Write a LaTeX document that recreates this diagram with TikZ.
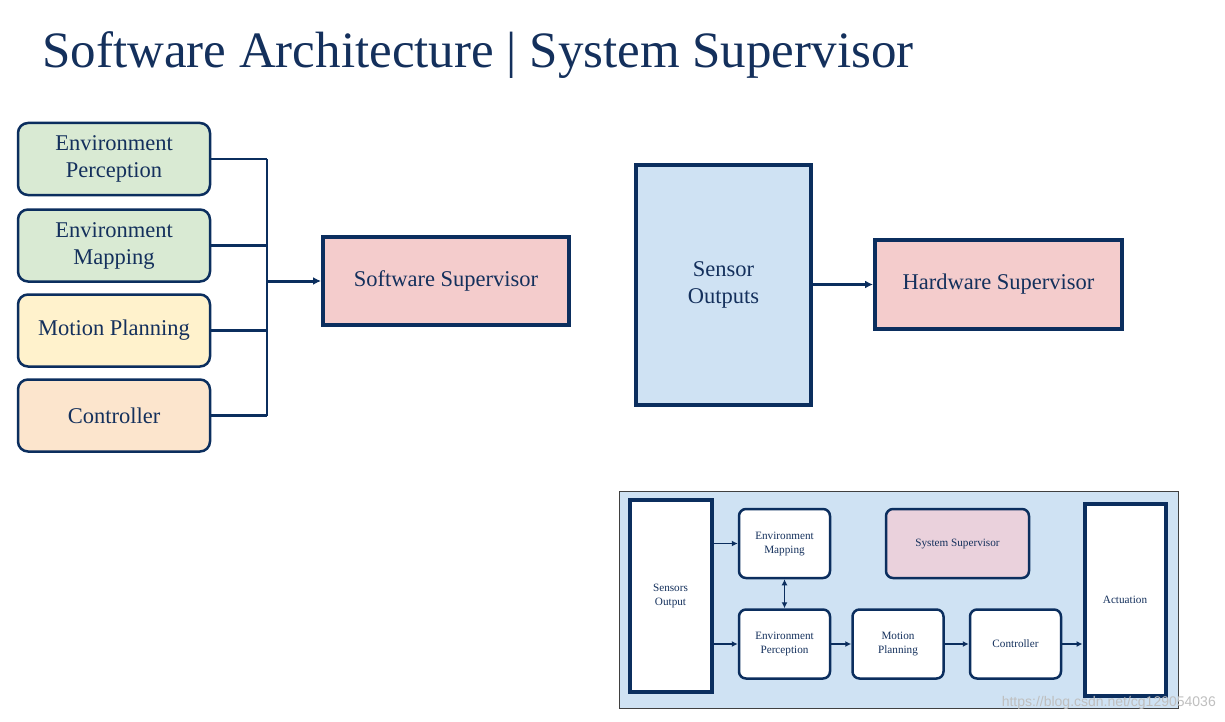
\documentclass[tikz,border=0pt]{standalone}
\usepackage{fontspec}
\setmainfont{Liberation Serif}
\newfontfamily\wmfont{Liberation Sans}
\usetikzlibrary{arrows.meta}
\definecolor{navy}{HTML}{0B2E5E}
\definecolor{tnavy}{HTML}{14305C}
\definecolor{lgreen}{HTML}{D9EAD3}
\definecolor{lyellow}{HTML}{FFF2CC}
\definecolor{lorange}{HTML}{FCE5CD}
\definecolor{lpink}{HTML}{F4CCCC}
\definecolor{lblue}{HTML}{CFE2F3}
\definecolor{lmauve}{HTML}{EAD1DC}
\begin{document}
\begin{tikzpicture}[x=1pt,y=-1pt,
  rbox/.style={draw=navy, line width=2.5pt, rounded corners=10pt, minimum width=192pt, minimum height=72pt, inner sep=0pt, text=tnavy, font=\fontsize{22.5}{27}\selectfont, align=center},
  sbox/.style={draw=navy, line width=4pt, inner sep=0pt, text=tnavy, font=\fontsize{22.5}{27}\selectfont, align=center},
  mbox/.style={draw=navy, line width=2.5pt, rounded corners=7pt, minimum width=91pt, minimum height=69pt, inner sep=0pt, fill=white, text=tnavy, font=\fontsize{11.2}{14}\selectfont, align=center},
  mtall/.style={draw=navy, line width=4pt, inner sep=0pt, fill=white, text=tnavy, font=\fontsize{11.2}{14}\selectfont, align=center},
  bus/.style={draw=navy, line width=2.5pt},
  barrow/.style={draw=navy, line width=3pt, -{Latex[length=8pt,width=8pt]}},
  sarrow/.style={draw=navy, line width=1.3pt, -{Latex[length=6pt,width=6pt]}},
  darrow/.style={draw=navy, line width=1.3pt, {Latex[length=6pt,width=6pt]}-{Latex[length=6pt,width=6pt]}}
]
\useasboundingbox[fill=white] (0,0) rectangle (1225,722);

% title
\node[anchor=base west, inner sep=0pt, text=tnavy, font=\fontsize{51}{60}\selectfont] (title) at (42,68) {Software Architecture | System Supervisor};

% left column
\node[rbox, fill=lgreen] (ep) at (114,159) {Environment\\Perception};
\node[rbox, fill=lgreen] (em) at (114,245.5) {Environment\\Mapping};
\node[rbox, fill=lyellow] (mp) at (114,330.5) {Motion Planning};
\node[rbox, fill=lorange] (ct) at (114,415.5) {Controller};

\node[sbox, fill=lpink, minimum width=246pt, minimum height=88pt] (ss) at (446,281) {Software Supervisor};

\coordinate (bt) at (267,159);
\coordinate (bb) at (267,415.5);
\draw[bus] (ep.east) -- (ep.east -| bt);
\draw[bus] (em.east) -- (em.east -| bt);
\draw[bus] (mp.east) -- (mp.east -| bt);
\draw[bus] (ct.east) -- (ct.east -| bt);
\draw[bus] (bt) -- (bb);
\draw[barrow] (ss.west -| bt) -- (ss.west);

% right top
\node[sbox, fill=lblue, minimum width=175pt, minimum height=240pt] (so) at (723.5,285) {Sensor\\Outputs};
\node[sbox, fill=lpink, minimum width=247pt, minimum height=89pt] (hs) at (998.5,284.5) {Hardware Supervisor};
\draw[barrow] (so.east |- hs.west) -- (hs.west);

% bottom panel
\node[draw=black!75, line width=1pt, fill=lblue, minimum width=559pt, minimum height=217pt, inner sep=0pt] (pn) at (898.5,599.5) {};
\node[mtall, minimum width=82pt, minimum height=192pt] (bso) at (670.5,595.5) {Sensors\\Output};
\node[mbox] (bem) at (784.5,543.5) {Environment\\Mapping};
\node[mbox] (bep) at (784.5,644) {Environment\\Perception};
\node[mbox] (bmp) at (898,644) {Motion\\Planning};
\node[mbox] (bct) at (1015.5,644) {Controller};
\node[mbox, fill=lmauve, minimum width=143pt] (bss) at (957.5,543.5) {System Supervisor};
\node[mtall, minimum width=81pt, minimum height=192pt] (bac) at (1125,599.5) {Actuation};

\draw[sarrow] (bem.west -| bso.east) -- (bem.west);
\draw[sarrow] (bep.west -| bso.east) -- (bep.west);
\draw[darrow] (bem.south) -- (bep.north);
\draw[sarrow] (bep.east) -- (bmp.west);
\draw[sarrow] (bmp.east) -- (bct.west);
\draw[sarrow] (bct.east) -- (bct.east -| bac.west);

% watermark
\node[anchor=east, inner sep=0pt, text=black!25, font=\wmfont\fontsize{14}{16}\selectfont] (wm) at (1216,703) {https://blog.csdn.net/cg129054036};
\end{tikzpicture}
\end{document}
